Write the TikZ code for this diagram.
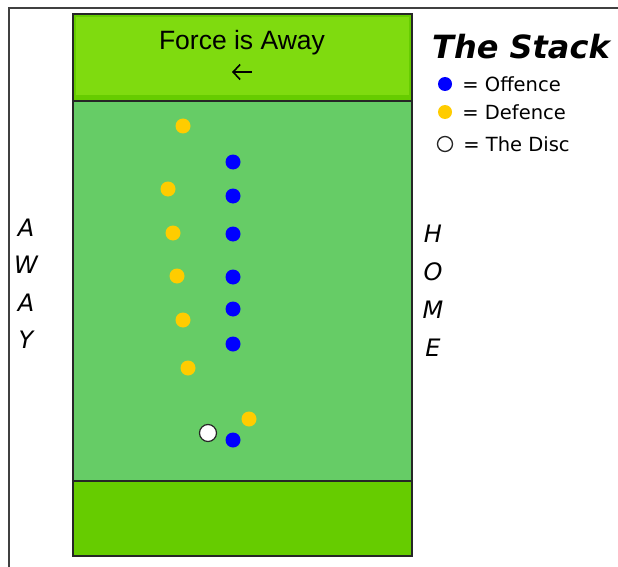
\documentclass[tikz,border=0pt]{standalone}
\usepackage{fontspec}
\setmainfont{DejaVu Sans}
\newfontfamily\arialfont{Liberation Sans}
\usetikzlibrary{positioning,arrows.meta}

\definecolor{endzone}{HTML}{66CC00}
\definecolor{endzonelight}{HTML}{7FDB0F}
\definecolor{fieldgreen}{HTML}{66CC66}
\definecolor{offblue}{HTML}{0000FF}
\definecolor{defyellow}{HTML}{FFCC00}

\begin{document}
\begin{tikzpicture}[
    x=1pt, y=-1pt,
    player/.style={circle, inner sep=0pt, minimum size=15pt},
    offence/.style={player, fill=offblue},
    defence/.style={player, fill=defyellow},
    disc/.style={circle, draw=black!85, line width=1.2pt, fill=white, inner sep=0pt, minimum size=17pt},
    letter/.style={font=\fontsize{24}{24}\selectfont\itshape},
    legendtext/.style={font=\fontsize{19.5}{19.5}\selectfont, inner sep=0pt, anchor=west},
    zone/.style={draw=black!85, line width=1.2pt}
]
\useasboundingbox (0,0) rectangle (618,567);

% ----- Frame -----
\draw[line width=1.3pt, black!75] (9,567) -- (9,8) -- (618,8);

% ----- Field -----
\fill[fieldgreen] (73,101) rectangle (412,481);
\fill[endzone] (73,14) rectangle (412,101);
\fill[endzonelight] (76,17) rectangle (409,95);
\fill[endzone] (73,481) rectangle (412,556);
\draw[zone] (73,14) rectangle (412,556);
\draw[zone] (73,101) -- (412,101);
\draw[zone] (73,481) -- (412,481);

\node[font=\arialfont\fontsize{26.5}{26.5}\selectfont] (force) at (242,43) {Force is Away};
\coordinate (arrowtail) at (252,72);
\coordinate (arrowtip) at (232,72);
\draw[-{Straight Barb[length=7pt,width=15pt]}, line width=1.6pt] (arrowtail) -- (arrowtip);

% ----- Sides -----
\foreach \c [count=\i] in {A,W,A,Y}{
    \node[letter] (away\i) at (26,190+37.5*\i) {\c};
}
\foreach \c [count=\i] in {H,O,M,E}{
    \node[letter] (home\i) at (433,196+38*\i) {\c};
}

% ----- Players -----
\foreach \x/\y [count=\i] in {183/126,168/189,173/233,177/276,183/320,188/368,249/419}{
    \node[defence] (D\i) at (\x,\y) {};
}
\foreach \y [count=\i] in {162,196,234,277,309,344,440}{
    \node[offence] (O\i) at (233,\y) {};
}
\node[disc] (disc) at (208,433) {};

% ----- Legend -----
\node[font=\fontsize{32}{32}\selectfont\bfseries\itshape, anchor=base west, inner sep=0pt] (title) at (432,59) {The Stack};
\node[offence, minimum size=14pt] (legoff) at (445,84) {};
\node[defence, minimum size=14pt] (legdef) at (445,112) {};
\node[disc, minimum size=15pt, line width=1.3pt] (legdisc) at (445,144) {};
\node[legendtext, right=10pt of legoff] {= Offence};
\node[legendtext, right=10pt of legdef] {= Defence};
\node[legendtext, right=10pt of legdisc] {= The Disc};

\end{tikzpicture}
\end{document}
